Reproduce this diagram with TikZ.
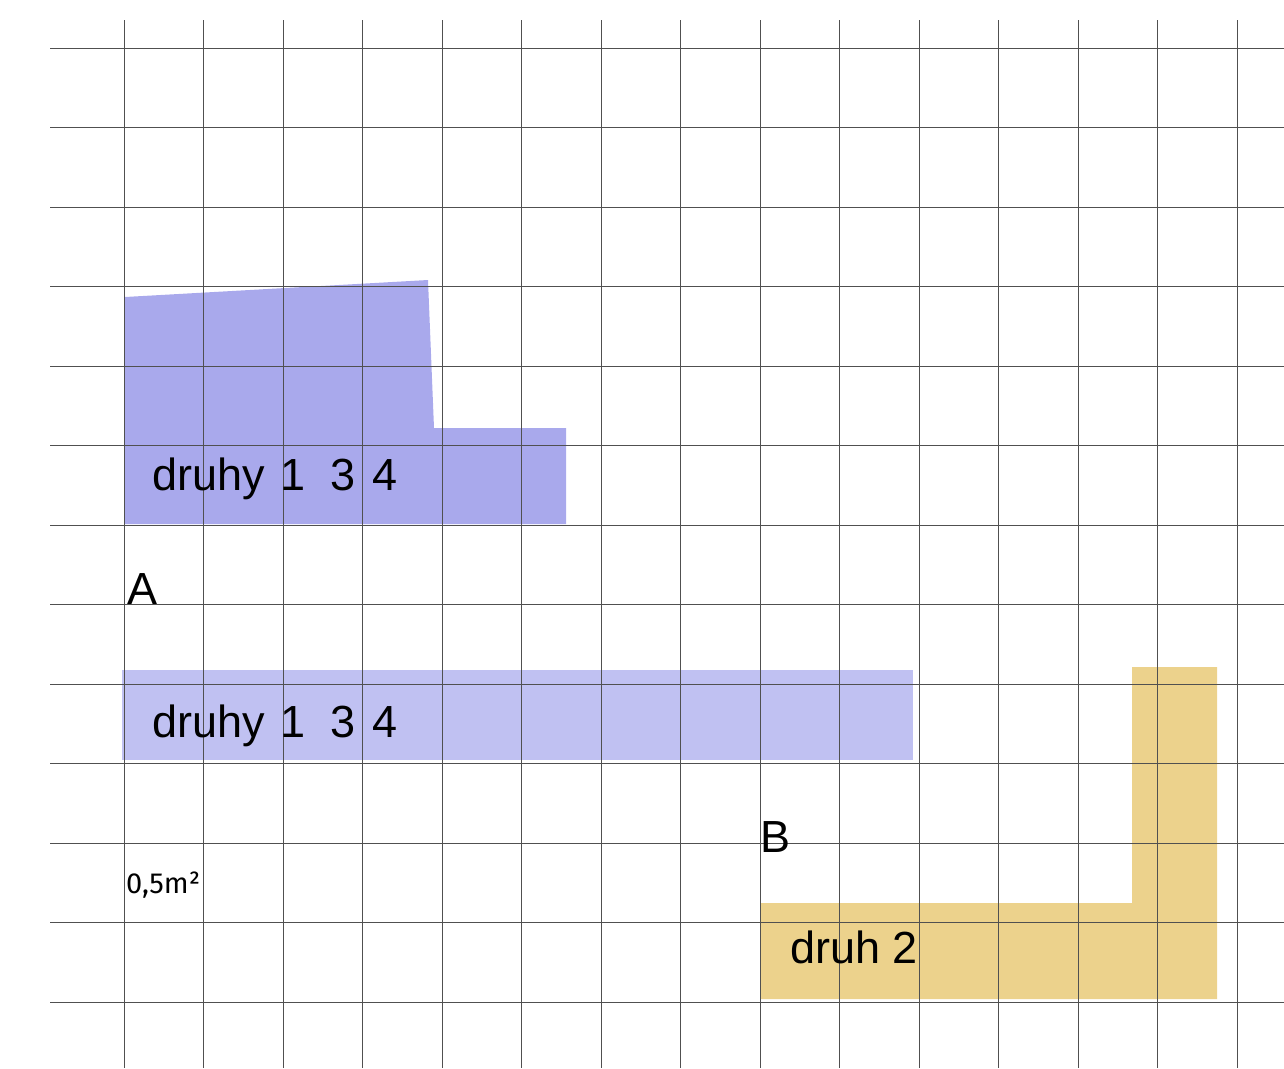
\documentclass[tikz,border=0pt]{standalone}
\usepackage{fontspec}
\setmainfont{Liberation Sans}
\newfontfamily\areafont{Fira Sans}
\definecolor{gridline}{HTML}{505050}
\definecolor{washblue}{HTML}{A9A9EC}
\definecolor{washpale}{HTML}{C0C1F2}
\definecolor{washochre}{HTML}{ECD28C}

\begin{document}
\begin{tikzpicture}[x=1pt,y=-1pt,
  gridpen/.style={draw=gridline,line width=1pt},
  bigtext/.style={anchor=base west,inner sep=0pt,font=\fontsize{45}{54}\selectfont},
  smalltext/.style={anchor=base west,inner sep=0pt,font=\areafont\fontsize{29}{34}\selectfont}]
  \useasboundingbox (0,0) rectangle (1284,1068);
  % patches
  \fill[washblue] (125,297) -- (428,280) -- (434,428) -- (566,428) -- (566,524) -- (124,524) -- cycle;
  \fill[washpale] (122,670) rectangle (913,760);
  \fill[washochre] (760,903) -- (1132,903) -- (1132,667) -- (1217,667) -- (1217,999) -- (760,999) -- cycle;
  % grid
  \foreach \i in {0,...,14}
    \draw[gridpen] ({124+79.5*\i},20) -- ({124+79.5*\i},1068);
  \foreach \j in {0,...,12}
    \draw[gridpen] (50,{48+79.5*\j}) -- (1284,{48+79.5*\j});
  % labels
  \node[bigtext] (upper) at (152,490) {druhy\hspace{3pt} 1\ \ 3\hspace{5pt} 4};
  \node[bigtext] (siteA) at (127,604) {A};
  \node[bigtext] (lower) at (152,737) {druhy\hspace{3pt} 1\ \ 3\hspace{5pt} 4};
  \node[bigtext] (siteB) at (760,852) {B};
  \node[smalltext] (area) at (126,893) {0,5m²};
  \node[bigtext] (druh) at (790,963) {druh 2};
\end{tikzpicture}
\end{document}
